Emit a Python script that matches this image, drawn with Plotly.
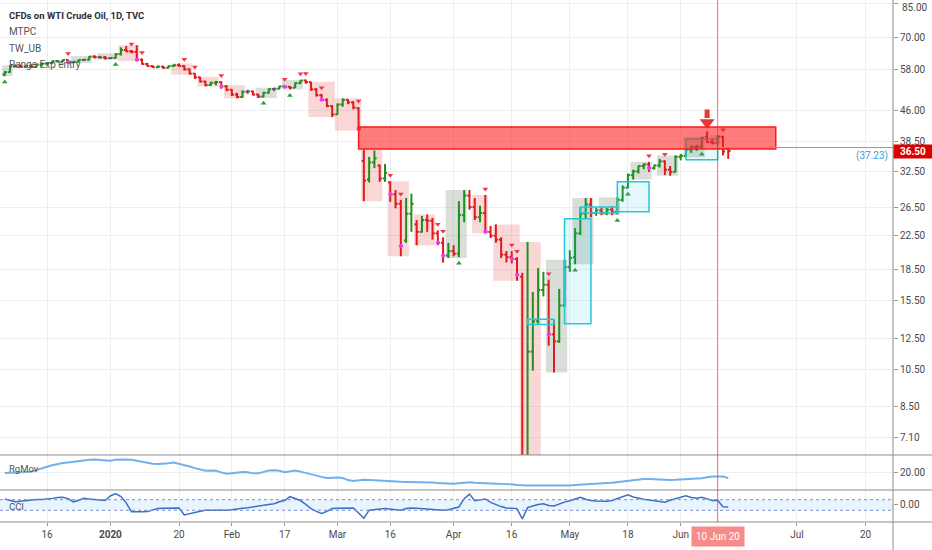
import numpy as np
import pandas as pd
import plotly.graph_objects as go

# daily bars, Dec 4 2019 .. Jun 12 2020 (weekdays)
dates = pd.bdate_range("2019-12-04", "2020-06-12")

opens = [
    # Dec
    56.5, 57.3, 59.2, 59.3, 59.1, 59.4, 59.0, 59.8, 60.1, 60.3, 61.0, 60.9, 61.4, 60.6, 60.8, 61.4, 61.5, 62.6, 62.4, 62.3,
    # Jan
    62.0, 62.1, 63.5, 65.0, 64.5, 64.3, 61.5, 60.0, 59.3, 58.9, 59.1, 58.7, 59.3, 59.6, 59.3, 58.2, 56.8, 55.6, 54.3, 53.2, 53.9, 54.1, 52.8,
    # Feb
    51.8, 50.4, 49.7, 51.2, 51.3, 50.4, 49.8, 50.9, 52.0, 52.1, 52.8, 52.7, 52.4, 53.8, 54.6, 54.1, 51.9, 50.2, 48.9, 47.2,
    # Mar
    45.0, 47.6, 48.9, 48.2, 46.6, 34.5, 31.0, 34.2, 33.6, 31.2, 30.5, 28.5, 27.0, 21.9, 25.5, 24.0, 23.0, 24.6, 24.5, 22.8, 21.6, 20.1,
    # Apr
    20.6, 20.3, 25.3, 28.3, 26.5, 25.0, 25.6, 23.0, 22.5, 22.0, 20.2, 19.9, 19.7, 17.8, 6.0, 11.6, 13.8, 16.5, 17.0, 12.8, 12.3, 15.1,
    # May
    18.8, 19.9, 22.8, 25.5, 26.9, 25.6, 26.0, 25.6, 26.1, 25.8, 27.6, 29.6, 31.8, 32.5, 33.5, 33.8, 33.1, 33.6, 34.4, 32.8, 32.4,
    # Jun
    35.3, 35.5, 36.8, 37.3, 37.4, 39.6, 38.4, 38.2, 39.6, 37.0,
]
highs = [
    57.6, 59.6, 59.9, 59.8, 59.6, 59.9, 60.1, 60.5, 60.6, 61.2, 61.3, 61.6, 61.6, 61.0, 61.6, 61.7, 62.8, 63.1, 62.9, 62.8,
    62.3, 63.8, 66.0, 66.5, 65.0, 66.8, 61.9, 60.4, 59.6, 59.5, 59.4, 59.5, 59.9, 60.2, 59.6, 58.5, 57.0, 55.8, 54.5, 54.2, 54.5, 54.3, 53.2,
    52.0, 50.9, 51.6, 51.8, 51.5, 50.6, 51.2, 52.2, 52.4, 53.0, 53.1, 52.9, 54.0, 54.8, 54.9, 54.2, 52.3, 50.6, 49.3, 47.4,
    47.9, 49.3, 49.0, 48.5, 46.9, 36.8, 35.3, 36.6, 33.8, 33.9, 30.7, 29.2, 27.6, 27.9, 28.6, 24.6, 25.2, 25.4, 24.9, 23.2, 22.3, 21.6,
    21.3, 27.4, 29.2, 29.2, 27.9, 26.7, 28.4, 23.8, 24.0, 22.3, 20.6, 20.6, 19.9, 18.2, 21.7, 16.3, 18.7, 18.3, 17.5, 13.9, 16.6, 19.6,
    20.7, 23.5, 26.5, 27.9, 27.9, 26.4, 26.5, 26.4, 26.6, 28.0, 30.0, 32.1, 32.8, 33.6, 34.0, 34.3, 33.8, 34.9, 34.6, 33.5, 35.6,
    35.9, 37.0, 37.7, 37.8, 39.6, 40.9, 39.2, 40.0, 39.8, 37.3,
]
lows = [
    56.0, 57.1, 58.9, 58.8, 58.7, 58.8, 58.7, 59.1, 59.8, 60.1, 60.5, 60.7, 60.3, 60.3, 60.6, 61.2, 61.3, 61.9, 61.9, 61.6,
    61.8, 61.9, 63.0, 64.3, 63.8, 61.0, 59.8, 59.1, 58.7, 58.6, 58.4, 58.5, 59.0, 59.1, 57.8, 56.5, 55.1, 54.0, 52.8, 52.9, 53.1, 52.1, 51.4,
    50.0, 49.3, 49.5, 50.6, 50.1, 49.4, 49.6, 50.7, 51.4, 51.9, 52.3, 51.9, 52.3, 53.5, 53.6, 51.5, 49.8, 48.6, 46.9, 44.3,
    44.9, 47.0, 47.7, 46.3, 41.0, 27.4, 30.5, 33.1, 30.6, 30.6, 27.3, 26.3, 20.0, 21.6, 23.0, 21.3, 22.9, 23.0, 22.0, 21.3, 19.3, 19.8,
    20.0, 19.9, 24.3, 26.1, 24.6, 24.3, 22.8, 22.2, 21.6, 19.8, 19.3, 19.2, 17.4, 2.0, 3.0, 10.4, 13.6, 15.9, 12.0, 10.3, 12.2, 15.0,
    18.3, 19.1, 22.6, 24.8, 25.0, 25.2, 25.3, 25.3, 25.3, 25.4, 27.3, 29.5, 31.0, 32.1, 32.9, 32.4, 32.8, 33.2, 31.8, 31.7, 32.3,
    34.6, 35.2, 36.1, 36.5, 37.1, 38.2, 37.9, 37.9, 35.6, 34.9,
]
closes = [
    57.3, 59.2, 59.3, 59.1, 59.4, 59.0, 59.8, 60.1, 60.3, 61.0, 60.9, 61.4, 60.6, 60.8, 61.4, 61.5, 62.6, 62.4, 62.3, 62.0,
    62.1, 63.5, 65.0, 64.5, 64.3, 61.5, 60.0, 59.3, 58.9, 59.1, 58.7, 59.3, 59.6, 59.3, 58.2, 56.8, 55.6, 54.3, 53.2, 53.9, 54.1, 52.8, 51.8,
    50.4, 49.7, 51.2, 51.3, 50.4, 49.8, 50.9, 52.0, 52.1, 52.8, 52.7, 52.4, 53.8, 54.6, 54.1, 51.9, 50.2, 48.9, 47.2, 45.0,
    47.6, 48.9, 48.2, 46.8, 41.5, 30.8, 34.2, 35.0, 31.2, 32.2, 28.5, 27.0, 21.2, 25.5, 27.0, 23.0, 24.6, 24.5, 22.8, 21.6, 20.1, 20.6,
    20.3, 25.3, 28.3, 26.5, 25.0, 25.6, 23.0, 22.5, 22.0, 20.2, 19.9, 19.7, 18.0, 3.0, 11.6, 13.8, 16.5, 17.0, 12.8, 12.3, 15.1, 18.8,
    19.8, 22.8, 25.5, 26.9, 25.6, 26.0, 25.6, 26.1, 25.8, 27.6, 29.6, 31.8, 32.5, 33.5, 33.8, 33.1, 33.6, 34.4, 32.8, 32.4, 35.3,
    35.5, 36.8, 37.3, 37.4, 39.3, 38.4, 38.2, 39.6, 36.4, 36.5,
]

# lower panes
rgmov = [
    19.6, 19.8, 20.0, 20.2, 20.4, 20.5, 21.6, 23.0, 23.9, 24.9, 25.9, 26.5, 26.9, 27.4, 28.0, 28.5, 28.8, 28.9, 28.6, 27.9,
    28.0, 28.8, 29.1, 28.9, 28.7, 28.0, 27.3, 26.7, 26.0, 25.8, 25.9, 26.4, 26.8, 26.0, 25.0, 24.1, 23.0, 22.0, 21.2, 21.4, 21.2, 20.1, 19.1,
    19.5, 20.0, 20.4, 20.1, 19.4, 19.4, 20.6, 21.3, 21.5, 21.2, 20.2, 20.8, 21.4, 20.6, 19.6, 18.5, 17.7, 17.0, 16.2, 16.4,
    16.6, 16.2, 14.8, 14.1, 14.5, 15.1, 14.9, 14.6, 14.4, 14.2, 14.0, 13.8, 13.6, 13.5, 13.5, 13.4, 13.4, 13.3, 13.1, 12.8, 12.6, 12.4,
    12.3, 12.7, 13.0, 13.3, 13.0, 12.7, 12.5, 12.4, 12.3, 12.2, 12.2, 11.9, 11.5, 11.1, 11.1, 11.1, 11.1, 11.0, 10.9, 10.8, 10.7, 10.9,
    11.1, 11.5, 11.8, 12.1, 12.4, 12.5, 12.6, 12.8, 12.9, 13.3, 14.0, 14.6, 14.9, 15.2, 15.5, 15.6, 15.4, 15.0, 14.7, 14.9, 15.0,
    15.1, 15.3, 15.6, 15.9, 16.0, 16.7, 17.3, 17.3, 17.2, 16.2,
]
cci = [
    114, 80, 60, 70, 84, 95, 102, 105, 110, 125, 140, 144, 120, 60, 90, 126, 115, 100, 90, 84,
    170, 217, 160, 40, -129, -135, -129, -125, -90, -68, -60, -56, -50, -56, -189, -170, -150, -120, -98, -100, -98, -110, -100,
    -90, -68, -60, -50, -38, -30, -7, 10, 23, 60, 84, 157, 120, 84, 10, -68, -120, -159, -120, -68,
    -60, -56, -60, -56, -150, -250, -98, -80, -75, -68, -75, -80, -98, -68, -56, -60, -68, -70, -80, -90, -98, -90,
    -60, -38, 120, 205, 80, 100, 114, 50, 5, -30, -56, -65, -68, -261, -50, -20, 10, 23, -10, -19, 20, 54,
    80, 114, 144, 110, 84, 75, 70, 70, 84, 120, 170, 193, 150, 126, 110, 95, 84, 70, 54, 90, 114,
    140, 175, 140, 126, 144, 120, 84, 90, -32, -38,
]

# range boxes (first bar, last bar, kind)
box_start = ["2019-12-04", "2019-12-23", "2019-12-30", "2020-01-03", "2020-01-17", "2020-01-24", "2020-01-31",
             "2020-02-10", "2020-02-17", "2020-02-24", "2020-03-02", "2020-03-09", "2020-03-16", "2020-03-23",
             "2020-03-31", "2020-04-07", "2020-04-13", "2020-04-20", "2020-04-27", "2020-05-04", "2020-05-11",
             "2020-05-19", "2020-05-26", "2020-06-02", "2020-06-09"]
box_end = ["2019-12-05", "2019-12-26", "2020-01-02", "2020-01-08", "2020-01-22", "2020-01-29", "2020-02-05",
           "2020-02-13", "2020-02-20", "2020-02-28", "2020-03-06", "2020-03-12", "2020-03-19", "2020-03-26",
           "2020-04-03", "2020-04-09", "2020-04-17", "2020-04-23", "2020-04-30", "2020-05-07", "2020-05-14",
           "2020-05-22", "2020-05-29", "2020-06-05", "2020-06-10"]
box_kind = ["up", "up", "up", "dn", "dn", "dn", "dn", "up", "up", "dn", "dn", "dn", "dn", "dn",
            "up", "dn", "dn", "dn", "up", "up", "up", "up", "up", "up", "dn"]

sell_marks = ["2019-12-20", "2020-01-07", "2020-01-09", "2020-01-21", "2020-01-23", "2020-01-30", "2020-02-17",
              "2020-02-20", "2020-02-21", "2020-02-26", "2020-03-06", "2020-03-16", "2020-03-18", "2020-03-27",
              "2020-03-30", "2020-04-09", "2020-04-16", "2020-04-17", "2020-04-27", "2020-05-22", "2020-05-27",
              "2020-06-11"]
buy_marks = ["2019-12-04", "2020-01-02", "2020-02-11", "2020-02-18", "2020-04-02", "2020-05-04", "2020-05-14",
             "2020-05-18", "2020-06-05"]
dot_marks = ["2019-12-20", "2020-01-08", "2020-01-30", "2020-02-17", "2020-02-26", "2020-03-06", "2020-03-16",
             "2020-03-18", "2020-03-27", "2020-03-30", "2020-04-09", "2020-04-16", "2020-04-17", "2020-04-27",
             "2020-05-22"]

# cyan breakout boxes
cyan_start = ["2020-04-21", "2020-04-30", "2020-05-05", "2020-05-14", "2020-06-02"]
cyan_end = ["2020-04-28", "2020-05-07", "2020-05-14", "2020-05-22", "2020-06-10"]
cyan_lo = [13.55, 13.6, 25.6, 25.8, 34.7]
cyan_hi = [13.95, 24.8, 26.5, 30.6, 39.1]

zone_start, zone_end = "2020-03-06", "2020-06-25"
zone_lo, zone_hi = 36.9, 41.85
level_price = 37.23
last_price = 36.50
signal_day = "2020-06-08"
cursor_day = "2020-06-10"

price_ticks = [85, 70, 58, 46, 38.5, 32.5, 26.5, 22.5, 18.5, 15.5, 12.5, 10.5, 8.5, 7.1]
time_ticks = ["2019-12-16", "2020-01-01", "2020-01-20", "2020-02-03", "2020-02-17", "2020-03-02", "2020-03-16",
              "2020-04-01", "2020-04-16", "2020-05-01", "2020-05-18", "2020-06-01", "2020-07-01", "2020-07-20"]
time_labels = ["16", "<b>2020</b>", "20", "Feb", "17", "Mar", "16", "Apr", "16", "May", "18", "Jun", "Jul", "20"]

FONT = "Liberation Sans Narrow, Roboto, DejaVu Sans, sans-serif"
H = pd.Timedelta(hours=1)
df = pd.DataFrame({"o": opens, "h": highs, "l": lows, "c": closes}, index=dates)
assert len(df) == 138


def mid(d):
    return pd.Timestamp(d) + 12 * H


fig = go.Figure()

# bars drawn as OHLC sticks, coloured by direction
chg = (df.c - df.o) / df.o
groups = {"#5b5b5b": chg.abs() < 0.003, "#1f8f1f": chg >= 0.003, "#e01b1b": chg <= -0.003}
for col, mask in groups.items():
    xs, ys = [], []
    for d, r in df[mask].iterrows():
        xs += [d + 12 * H, d + 12 * H, None, d + 2 * H, d + 12 * H, None, d + 12 * H, d + 22 * H, None]
        ys += [r.l, r.h, None, r.o, r.o, None, r.c, r.c, None]
    fig.add_trace(go.Scatter(x=xs, y=ys, mode="lines", line=dict(color=col, width=2),
                             hoverinfo="skip", showlegend=False))

sel = [pd.Timestamp(d) for d in sell_marks]
fig.add_trace(go.Scatter(x=[mid(d) for d in sel], y=df.loc[sel, "h"] * 1.035, mode="markers",
                         marker=dict(symbol="triangle-down", size=5, color="#f23645"), showlegend=False))
buy = [pd.Timestamp(d) for d in buy_marks]
fig.add_trace(go.Scatter(x=[mid(d) for d in buy], y=df.loc[buy, "l"] / 1.035, mode="markers",
                         marker=dict(symbol="triangle-up", size=5, color="#2e9e2e"), showlegend=False))
dot = [pd.Timestamp(d) for d in dot_marks]
fig.add_trace(go.Scatter(x=[mid(d) for d in dot], y=df.loc[dot, "c"], mode="markers",
                         marker=dict(symbol="circle", size=4, color="#e040fb"), showlegend=False))

# head of the signal arrow, just above the zone
fig.add_trace(go.Scatter(x=[mid(signal_day)], y=[zone_hi * 1.027], mode="markers",
                         marker=dict(symbol="triangle-down", size=13, color="#e53935"), showlegend=False))

fig.add_trace(go.Scatter(x=dates + 12 * H, y=rgmov, yaxis="y2", mode="lines",
                         line=dict(color="#6eb1ee", width=2), showlegend=False))
fig.add_trace(go.Scatter(x=dates + 12 * H, y=cci, yaxis="y3", mode="lines",
                         line=dict(color="#3d6fc6", width=1.5), showlegend=False))

shapes = []
for s, e, k in zip(box_start, box_end, box_kind):
    seg = df.loc[s:e]
    shapes.append(dict(type="rect", xref="x", yref="y", x0=pd.Timestamp(s), x1=pd.Timestamp(e) + 24 * H,
                       y0=seg.l.min(), y1=seg.h.max(), line_width=0, layer="between",
                       fillcolor="rgba(235,110,110,0.28)" if k == "dn" else "rgba(120,140,115,0.28)"))
for s, e, lo, hi in zip(cyan_start, cyan_end, cyan_lo, cyan_hi):
    shapes.append(dict(type="rect", xref="x", yref="y", x0=mid(s), x1=mid(e), y0=lo, y1=hi,
                       line=dict(color="#26c6da", width=1.5), fillcolor="rgba(38,198,218,0.12)"))
shapes.append(dict(type="rect", xref="x", yref="y", x0=mid(zone_start), x1=mid(zone_end), y0=zone_lo, y1=zone_hi,
                   line=dict(color="#ff1a1a", width=1.5), fillcolor="rgba(255,30,30,0.58)", layer="above"))
shapes.append(dict(type="line", xref="x", yref="y", x0=mid(cursor_day), x1="2020-08-15", y0=level_price,
                   y1=level_price, line=dict(color="#5aa8e8", width=1)))
# CCI band
shapes.append(dict(type="rect", xref="paper", yref="y3", x0=0, x1=1, y0=-100, y1=100,
                   fillcolor="rgba(33,150,243,0.1)", line_width=0, layer="below"))
for v in (-100, 100):
    shapes.append(dict(type="line", xref="paper", yref="y3", x0=0, x1=1, y0=v, y1=v,
                       line=dict(color="#7d8fc8", width=1, dash="dot")))
# pane separators and price-scale border
for yp in (0.1284, 0.0613, 0.0):
    shapes.append(dict(type="line", xref="paper", yref="paper", x0=0, x1=1.045, y0=yp, y1=yp,
                       line=dict(color="#8c8c8c", width=1)))
shapes.append(dict(type="line", xref="paper", yref="paper", x0=1, x1=1, y0=-0.06, y1=1,
                   line=dict(color="#8c8c8c", width=1)))
# cursor line
shapes.append(dict(type="line", xref="x", yref="paper", x0=mid(cursor_day), x1=mid(cursor_day), y0=0, y1=1,
                   line=dict(color="rgba(255,40,40,0.7)", width=1)))


def py(px):
    return 1 - px / 522


axis_font = dict(size=10, color="#4a4a4a")
ann = [
    dict(text="<b>CFDs on WTI Crude Oil, 1D, TVC</b>", x=0.008, y=py(15), font=dict(size=9.5, color="#2a2e39")),
    dict(text="MTPC", x=0.008, y=py(32), font=dict(size=10, color="#555")),
    dict(text="TW_UB", x=0.008, y=py(48), font=dict(size=10, color="#555")),
    dict(text="Range Exp entry", x=0.008, y=py(64), font=dict(size=10, color="#555")),
    dict(text="RgMov", x=0.008, y=py(468), font=dict(size=9.5, color="#555")),
    dict(text="CCI", x=0.008, y=py(506), font=dict(size=9.5, color="#555")),
]
for a in ann:
    a.update(xref="paper", yref="paper", xanchor="left", yanchor="middle", showarrow=False)
ann += [
    # top price label, kept just inside the top edge of the scale
    dict(text="%.2f" % price_ticks[0], xref="paper", yref="paper", x=1.0, xshift=7, y=1.0,
         xanchor="left", yanchor="top", showarrow=False, font=axis_font),
    dict(text="<b>%.2f</b>" % last_price, xref="paper", yref="y", x=1.0, y=np.log10(last_price), xanchor="left",
         yanchor="middle", showarrow=False, bgcolor="#d90000", font=dict(size=10, color="white"),
         borderpad=1, width=36),
    dict(text="(%.2f)" % level_price, xref="paper", yref="y", x=0.997, y=np.log10(level_price), xanchor="right",
         yanchor="top", showarrow=False, font=dict(size=10, color="#3d9be0")),
    dict(text="10 Jun 20", xref="x", yref="paper", x=mid(cursor_day), y=0, yanchor="top", yshift=-4,
         showarrow=False, bgcolor="#f88a8a", font=dict(size=10, color="white"), borderpad=4),
    # shaft of the signal arrow
    dict(text="", xref="x", yref="y", x=mid(signal_day), y=np.log10(zone_hi), showarrow=True, ax=0, ay=-19,
         arrowhead=0, arrowwidth=5, arrowcolor="#e53935", standoff=9),
]

fig.update_layout(
    width=932, height=550, margin=dict(l=0, r=39, t=0, b=28),
    paper_bgcolor="white", plot_bgcolor="white", font=dict(family=FONT),
    showlegend=False, shapes=shapes, annotations=ann,
    xaxis=dict(type="date", range=["2019-12-03 14:24", "2020-07-27 16:48"],
               rangebreaks=[dict(bounds=["sat", "mon"])],
               tickvals=[mid(d) for d in time_ticks], ticktext=time_labels,
               showgrid=True, gridcolor="#eceef3", ticks="outside", ticklen=3, tickcolor="#999",
               tickfont=axis_font, zeroline=False, showline=False, anchor="y3"),
    yaxis=dict(type="log", range=[0.808, 1.937], domain=[0.1284, 1.0], side="right",
               tickvals=price_ticks, ticktext=["%.2f" % v for v in price_ticks],
               showgrid=True, gridcolor="#eceef3", ticks="outside", ticklen=4, tickcolor="#999",
               tickfont=axis_font, zeroline=False),
    yaxis2=dict(range=[8, 32], domain=[0.0613, 0.1284], side="right", tickvals=[20], ticktext=["20.00"],
                showgrid=True, gridcolor="#eceef3", ticks="outside", ticklen=4, tickcolor="#999",
                tickfont=axis_font, zeroline=False),
    yaxis3=dict(range=[-321, 283], domain=[0.0, 0.0613], side="right", tickvals=[0], ticktext=["0.00"],
                showgrid=False, ticks="outside", ticklen=4, tickcolor="#999",
                tickfont=axis_font, zeroline=False),
)

# the page is shot at exactly the figure size, so drop the default body margin
fig.write_html("out.html", config={"displayModeBar": False},
               post_script="document.body.style.margin = '0';")
